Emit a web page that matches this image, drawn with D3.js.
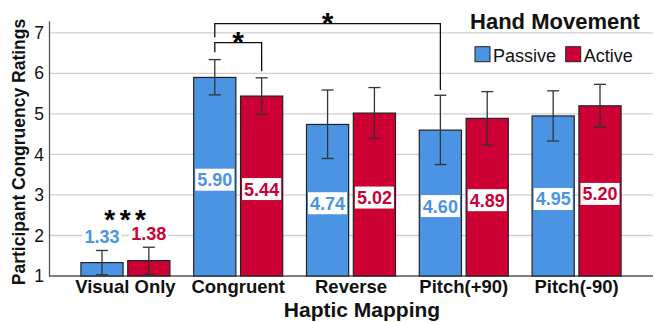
<!DOCTYPE html>
<html>
<head>
<meta charset="utf-8">
<script src="https://cdn.jsdelivr.net/npm/d3@7"></script>
<style>
  body { margin: 0; background: #fff; }
  text { font-family: "Liberation Sans", Arial, sans-serif; }
</style>
</head>
<body>
<div id="chart"></div>
<script>
// categories and series
var categories = ["Visual Only", "Congruent", "Reverse", "Pitch(+90)", "Pitch(-90)"]
var series = ["Passive", "Active"]
var colors = ["#4A94E3", "#CC0033"]

// mean ratings
var passiveMeans = [1.33, 5.90, 4.74, 4.60, 4.95]
var activeMeans = [1.38, 5.44, 5.02, 4.89, 5.20]
// error bar ends
var passiveLow = [1.03, 5.47, 3.90, 3.75, 4.33]
var passiveHigh = [1.63, 6.34, 5.59, 5.46, 5.57]
var activeLow = [1.04, 4.99, 4.40, 4.23, 4.67]
var activeHigh = [1.71, 5.89, 5.65, 5.55, 5.73]

var yTicks = [1, 2, 3, 4, 5, 6, 7]

// significance brackets: [category, series index] pairs, levels in rating units
var brackets = [
  { a: ["Congruent", 0], b: ["Congruent", 1], top: 6.76, endA: 6.52, endB: 6.05, label: "*" },
  { a: ["Congruent", 0], b: ["Pitch(+90)", 0], top: 7.23, endA: 6.89, endB: 5.59, label: "*" }
]

var width = 657, height = 322
var plotL = 49, plotR = 653, plotT = 20.7, plotB = 276

var svg = d3.select("#chart").append("svg")
  .attr("width", width)
  .attr("height", height)

var y = d3.scaleLinear().domain([1, 7.3]).range([plotB, plotT])

var x0 = d3.scaleBand()
  .domain(categories)
  .range([plotL, plotR])
  .paddingInner(0.211)
  .paddingOuter(0.283)

var x1 = d3.scaleBand()
  .domain(d3.range(series.length))
  .range([0, x0.bandwidth()])
  .paddingInner(0.1)

// gridlines
svg.selectAll(".grid")
  .data(yTicks.slice(1))
  .enter()
  .append("line")
    .attr("x1", plotL)
    .attr("x2", plotR)
    .attr("y1", function(d) { return y(d) })
    .attr("y2", function(d) { return y(d) })
    .attr("stroke", "#cfcfcf")
    .attr("stroke-width", 1.3)

// y axis
var yAxis = svg.append("g")
  .attr("transform", "translate(" + plotL + ",0)")
  .call(d3.axisLeft(y).tickValues(yTicks).tickSize(0).tickPadding(5).tickFormat(d3.format("d")))
yAxis.select(".domain").attr("stroke", "#555").attr("stroke-width", 1.3)
yAxis.selectAll("text").attr("font-size", 17.5).attr("fill", "#111")
  .style("font-family", "'Liberation Sans', Arial, sans-serif")

// bottom line
svg.append("line")
  .attr("x1", plotL).attr("x2", plotR)
  .attr("y1", plotB).attr("y2", plotB)
  .attr("stroke", "#555").attr("stroke-width", 1.3)

// build rows
var rows = []
categories.forEach(function(c, i) {
  rows.push({ cat: c, s: 0, v: passiveMeans[i], lo: passiveLow[i], hi: passiveHigh[i] })
  rows.push({ cat: c, s: 1, v: activeMeans[i], lo: activeLow[i], hi: activeHigh[i] })
})

function cx(cat, s) { return x0(cat) + x1(s) + x1.bandwidth() / 2 }

// bars
svg.selectAll(".bar")
  .data(rows)
  .enter()
  .append("rect")
    .attr("x", function(d) { return x0(d.cat) + x1(d.s) })
    .attr("y", function(d) { return y(d.v) })
    .attr("width", x1.bandwidth())
    .attr("height", function(d) { return y(1) - y(d.v) })
    .attr("fill", function(d) { return colors[d.s] })
    .attr("stroke", "#222")
    .attr("stroke-width", 1.2)

// error bars
var eb = svg.selectAll(".err")
  .data(rows)
  .enter()
  .append("g")
    .attr("stroke", "#333")
    .attr("stroke-width", 1.3)
eb.append("line")
  .attr("x1", function(d) { return cx(d.cat, d.s) })
  .attr("x2", function(d) { return cx(d.cat, d.s) })
  .attr("y1", function(d) { return y(d.lo) })
  .attr("y2", function(d) { return y(d.hi) })
eb.append("line")
  .attr("x1", function(d) { return cx(d.cat, d.s) - 6 })
  .attr("x2", function(d) { return cx(d.cat, d.s) + 6 })
  .attr("y1", function(d) { return y(d.hi) })
  .attr("y2", function(d) { return y(d.hi) })
eb.append("line")
  .attr("x1", function(d) { return cx(d.cat, d.s) - 6 })
  .attr("x2", function(d) { return cx(d.cat, d.s) + 6 })
  .attr("y1", function(d) { return y(d.lo) })
  .attr("y2", function(d) { return y(d.lo) })

// value labels with white boxes
var labels = svg.selectAll(".lab")
  .data(rows)
  .enter()
  .append("g")
    .attr("transform", function(d) {
      var mid = (y(1) - y(d.v) < 40) ? y(d.hi) - 14 : (y(d.v) + y(1)) / 2 + 3
      return "translate(" + cx(d.cat, d.s) + "," + mid + ")"
    })
labels.append("rect").attr("fill", "#fff")
labels.append("text")
  .attr("text-anchor", "middle")
  .attr("y", 6.5)
  .attr("font-size", 18)
  .attr("font-weight", "bold")
  .attr("fill", function(d) { return colors[d.s] })
  .text(function(d) { return d.v.toFixed(2) })
labels.each(function() {
  var g = d3.select(this)
  var w = g.select("text").node().getBBox().width + 4
  g.select("rect").attr("x", -w / 2).attr("y", -11).attr("width", w).attr("height", 22)
})

// significance stars over Visual Only
svg.append("text")
  .attr("x", x0("Visual Only") + x0.bandwidth() / 2 + 2)
  .attr("y", y(passiveHigh[0]) - 21)
  .attr("text-anchor", "middle")
  .attr("font-size", 28)
  .attr("letter-spacing", 4.5)
  .attr("font-weight", "bold")
  .text("***")

// brackets
brackets.forEach(function(b) {
  var xa = cx(b.a[0], b.a[1]), xb = cx(b.b[0], b.b[1])
  svg.append("path")
    .attr("d", "M" + xa + "," + y(b.endA) + "V" + y(b.top) + "H" + xb + "V" + y(b.endB))
    .attr("fill", "none")
    .attr("stroke", "#111")
    .attr("stroke-width", 1.3)
  svg.append("text")
    .attr("x", (xa + xb) / 2)
    .attr("y", y(b.top) + 9)
    .attr("text-anchor", "middle")
    .attr("font-size", 30)
    .attr("font-weight", "bold")
    .text(b.label)
})

// category labels
svg.selectAll(".cat")
  .data(categories)
  .enter()
  .append("text")
    .attr("x", function(d) { return x0(d) + x0.bandwidth() / 2 })
    .attr("y", 293)
    .attr("text-anchor", "middle")
    .attr("font-size", 18.5)
    .attr("font-weight", "bold")
    .attr("fill", "#111")
    .text(function(d) { return d })

// axis titles
svg.append("text")
  .attr("x", (plotL + plotR) / 2 + 11)
  .attr("y", 317)
  .attr("text-anchor", "middle")
  .attr("font-size", 21)
  .attr("font-weight", "bold")
  .attr("fill", "#111")
  .text("Haptic Mapping")

svg.append("text")
  .attr("transform", "translate(25,152) rotate(-90)")
  .attr("text-anchor", "middle")
  .attr("font-size", 17.5)
  .attr("font-weight", "bold")
  .attr("fill", "#111")
  .text("Participant Congruency Ratings")

// legend
var legend = svg.append("g")
svg.append("text")
  .attr("x", 555)
  .attr("y", 29.3)
  .attr("text-anchor", "middle")
  .attr("font-size", 22)
  .attr("font-weight", "bold")
  .attr("fill", "#111")
  .text("Hand Movement")

var legendX = [475, 565.7]
var items = legend.selectAll(".li")
  .data(series)
  .enter()
  .append("g")
    .attr("transform", function(d, i) { return "translate(" + legendX[i] + ",46.7)" })
items.append("rect")
  .attr("width", 15)
  .attr("height", 15)
  .attr("fill", function(d, i) { return colors[i] })
  .attr("stroke", "#222")
  .attr("stroke-width", 1)
items.append("text")
  .attr("x", 18)
  .attr("y", 15)
  .attr("font-size", 18)
  .attr("fill", "#111")
  .text(function(d) { return d })
</script>
</body>
</html>
